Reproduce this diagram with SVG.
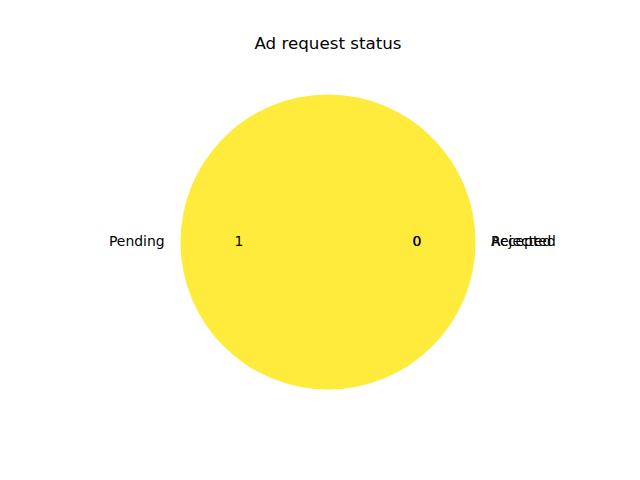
<svg xmlns="http://www.w3.org/2000/svg" width="640" height="480" viewBox="0 0 640 480">
<style>
text{font-family:"DejaVu Sans",sans-serif;font-size:13.9px;fill:#000}
.t{font-size:16.7px;text-anchor:middle}
</style>
<rect width="640" height="480" fill="#fff"/>
<text class="t" x="328" y="49">Ad request status</text>
<g id="pie">
<circle cx="328" cy="242" r="147.5" fill="#ffeb3b"/>
</g>
<g id="labels">
<text x="164.5" y="246" text-anchor="end">Pending</text>
<text x="239" y="246" text-anchor="middle">1</text>
<text x="417" y="246" text-anchor="middle">0</text>
<text x="417" y="246" text-anchor="middle">0</text>
<text x="491" y="246">Accepted</text>
<text x="491" y="246">Rejected</text>
</g>
</svg>
